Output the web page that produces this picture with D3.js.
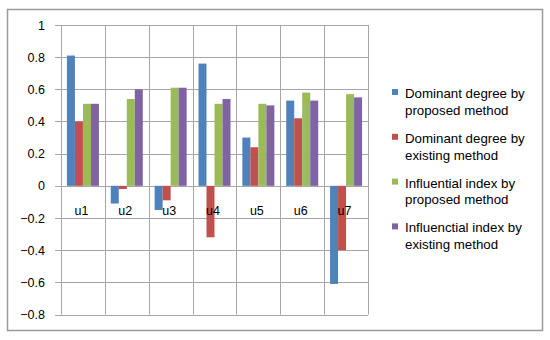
<!DOCTYPE html>
<html>
<head>
<meta charset="utf-8">
<script src="https://cdn.jsdelivr.net/npm/d3@7"></script>
<style>
    body { margin: 0; background: #fff; }
    svg text { font-family: "Liberation Sans", Arial, sans-serif; fill: #000; }
</style>
</head>
<body>
<div id="chart"></div>
<script>
"use strict";

const categories = ["u1", "u2", "u3", "u4", "u5", "u6", "u7"];
const seriesNames = [
    "Dominant degree by proposed method",
    "Dominant degree by existing method",
    "Influential index by proposed method",
    "Influenctial index by existing method"
];
const legendLines = [
    ["Dominant degree by", "proposed method"],
    ["Dominant degree by", "existing method"],
    ["Influential index by", "proposed method"],
    ["Influenctial index by", "existing method"]
];
const dominantProposed = [0.81, -0.11, -0.15, 0.76, 0.30, 0.53, -0.61];
const dominantExisting = [0.40, -0.02, -0.09, -0.32, 0.24, 0.42, -0.40];
const influentialProposed = [0.51, 0.54, 0.61, 0.51, 0.51, 0.58, 0.57];
const influentialExisting = [0.51, 0.60, 0.61, 0.54, 0.50, 0.53, 0.55];
const yTicks = [-0.8, -0.6, -0.4, -0.2, 0, 0.2, 0.4, 0.6, 0.8, 1];
const colors = ["#4F81BD", "#C0504D", "#9BBB59", "#8064A2"];

const allSeries = [dominantProposed, dominantExisting, influentialProposed, influentialExisting];

const width = 550;
const height = 340;
const plot = { left: 61, right: 368, top: 25, bottom: 314.5 };

const svg = d3.select("#chart")
    .append("svg")
    .attr("width", width)
    .attr("height", height);

// outer frame
svg.append("rect")
    .attr("x", 7.5).attr("y", 9.5)
    .attr("width", 535).attr("height", 321)
    .attr("fill", "#fff")
    .attr("stroke", "#9a9a9a")
    .attr("stroke-width", 1.5);

const y = d3.scaleLinear().domain([-0.8, 1]).range([plot.bottom, plot.top]);
const x = d3.scaleBand().domain(categories).range([plot.left, plot.right]).padding(0);
const x1 = d3.scaleBand().domain(d3.range(4))
    .range([0, x.bandwidth()]).paddingOuter(0.74).paddingInner(0);

const grid = svg.append("g").attr("stroke", "#a6a6a6").attr("stroke-width", 1);

// horizontal gridlines with small ticks left of the axis
grid.selectAll("line.h")
    .data(yTicks)
    .enter().append("line")
    .attr("x1", plot.left - 6).attr("x2", plot.right)
    .attr("y1", d => Math.round(y(d)) + 0.5)
    .attr("y2", d => Math.round(y(d)) + 0.5);

// vertical gridlines at category boundaries
const bounds = categories.map(c => x(c)).concat([plot.right]);
grid.selectAll("line.v")
    .data(bounds)
    .enter().append("line")
    .attr("x1", d => Math.round(d) + 0.5).attr("x2", d => Math.round(d) + 0.5)
    .attr("y1", plot.top).attr("y2", y(-0.8));

// bars
const groups = svg.append("g").selectAll("g")
    .data(categories)
    .enter().append("g")
    .attr("transform", c => `translate(${x(c)},0)`);

groups.selectAll("rect")
    .data((c, i) => allSeries.map((s, k) => ({ k: k, v: s[i] })))
    .enter().append("rect")
    .attr("x", d => x1(d.k))
    .attr("width", x1.bandwidth())
    .attr("y", d => y(Math.max(0, d.v)))
    .attr("height", d => Math.abs(y(d.v) - y(0)))
    .attr("fill", d => colors[d.k]);

// y tick labels
svg.append("g").selectAll("text")
    .data(yTicks)
    .enter().append("text")
    .attr("x", 45)
    .attr("y", d => y(d))
    .attr("dy", "0.36em")
    .attr("text-anchor", "end")
    .style("font-size", "12.5px")
    .text(d => d3.format("")(d));

// category labels just below the zero line
svg.append("g").selectAll("text")
    .data(categories)
    .enter().append("text")
    .attr("x", c => x(c) + x.bandwidth() / 2 - 1.5)
    .attr("y", y(0) + 29)
    .attr("text-anchor", "middle")
    .style("font-size", "12.5px")
    .text(c => c);

// legend
const legend = svg.append("g").selectAll("g")
    .data(seriesNames)
    .enter().append("g")
    .attr("transform", (d, i) => `translate(392,${89 + i * 44.8})`);

legend.append("rect")
    .attr("width", 6).attr("height", 6)
    .attr("fill", (d, i) => colors[i]);

legend.append("text")
    .selectAll("tspan")
    .data((d, i) => legendLines[i])
    .enter().append("tspan")
    .attr("x", 13)
    .attr("y", (d, j) => 9 + j * 16.8)
    .style("font-size", "13.3px")
    .text(d => d);
</script>
</body>
</html>
